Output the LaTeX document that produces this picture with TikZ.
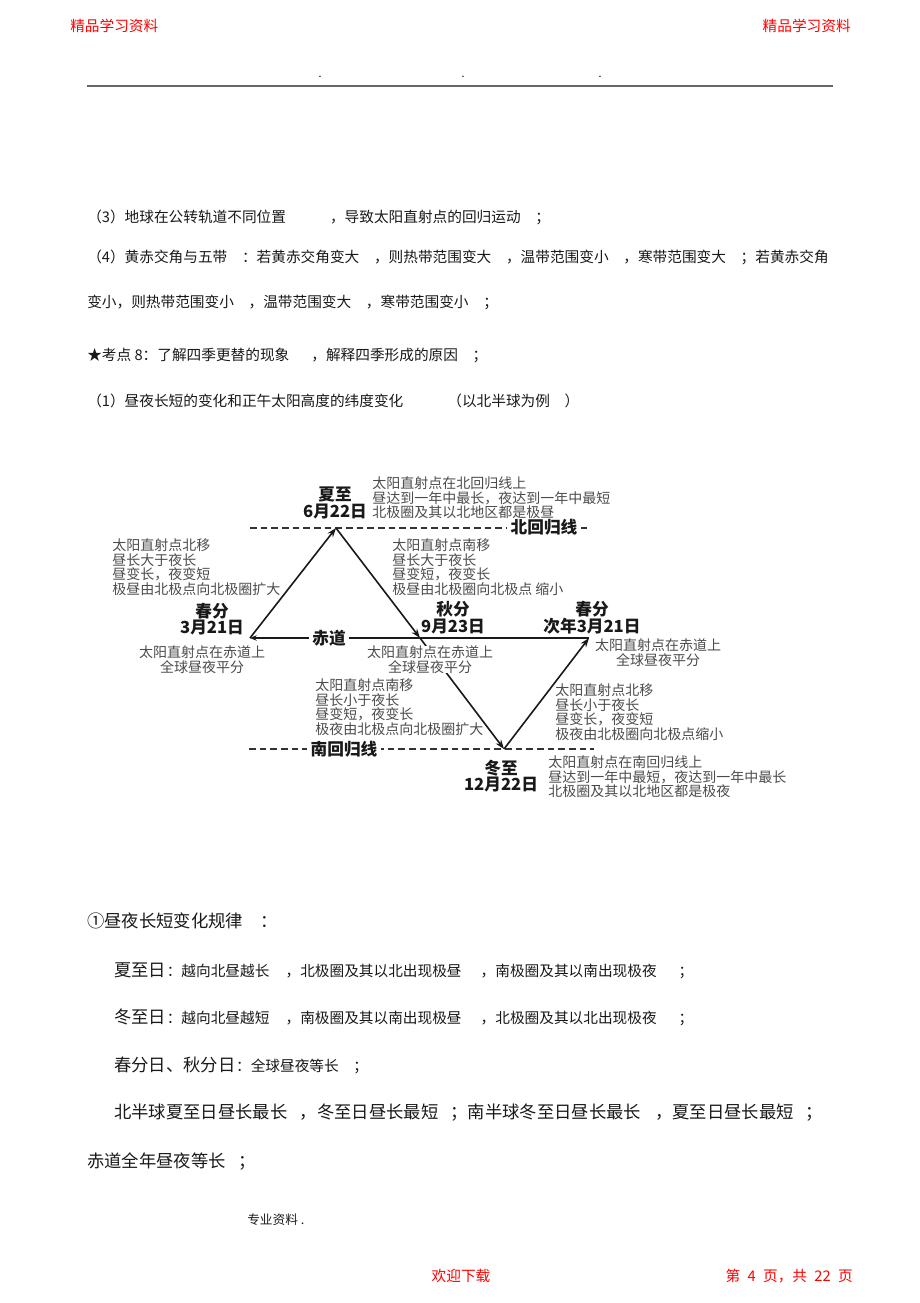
\documentclass[tikz,border=0pt]{standalone}
\usepackage{fontspec}
\setmainfont{Noto Sans CJK SC}
\usetikzlibrary{arrows.meta}

\begin{document}
\begin{tikzpicture}[x=0.75pt,y=-0.75pt]

\tikzstyle{redtext} = [inner sep=0pt,text=red,font=\fontsize{11}{13}\selectfont];
\tikzstyle{bodytext} = [anchor=west,inner sep=0pt,text=black!90,font=\fontsize{11}{13}\selectfont];
\tikzstyle{bigtext} = [anchor=west,inner sep=0pt,text=black!90,font=\fontsize{13}{15}\selectfont];
\tikzstyle{notenode} = [inner sep=0pt,align=left,text=black!70,font=\fontsize{10.5}{10.9}\selectfont];
\tikzstyle{seasonnode} = [inner sep=0pt,align=center,text=black!90,font=\bfseries\fontsize{12.5}{12.5}\selectfont];
\tikzstyle{linelabel} = [inner sep=2.5pt,fill=white,text=black!90,font=\bfseries\fontsize{12.5}{13}\selectfont];
\tikzstyle{orbitline} = [line width=1.2pt,draw=black!90,-{Stealth[length=7pt,width=5pt]}];
\tikzstyle{tropicline} = [line width=1.2pt,draw=black!80,dash pattern=on 5pt off 3pt];

\fill [white] (0,0) rectangle (920,1303);
\useasboundingbox (0,0) rectangle (920,1303);

% page head
\node [redtext,anchor=west] (headl) at (70,26) {精品学习资料};
\node [redtext,anchor=east] (headr) at (851,26) {精品学习资料};
\draw [line width=1.5pt,black!60] (87,86) -- (833,86);
\node [inner sep=0pt,font=\fontsize{8}{8}\selectfont] (dot1) at (320,77) {.};
\node [inner sep=0pt,font=\fontsize{8}{8}\selectfont] (dot2) at (463,77) {.};
\node [inner sep=0pt,font=\fontsize{8}{8}\selectfont] (dot3) at (600,77) {.};

% text above the figure
\node [bodytext] (t3) at (87,217) {（3）地球在公转轨道不同位置\hspace{3em}，导致太阳直射点的回归运动\hspace{1em}；};
\node [bodytext] (t4) at (87,257) {（4）黄赤交角与五带\hspace{1em}：若黄赤交角变大\hspace{1em}，则热带范围变大\hspace{1em}，温带范围变小\hspace{1em}，寒带范围变大\hspace{1em}；若黄赤交角};
\node [bodytext] (t4b) at (87,302) {变小，则热带范围变小\hspace{1em}，温带范围变大\hspace{1em}，寒带范围变小\hspace{1em}；};
\node [bodytext] (t8) at (87,355) {★考点 8：了解四季更替的现象\hspace{1.5em}，解释四季形成的原因\hspace{1em}；};
\node [bodytext] (t1) at (87,401) {（1）昼夜长短的变化和正午太阳高度的纬度变化\hspace{3em}（以北半球为例\hspace{1em}）};

% figure
\coordinate (chunfen) at (250,638);
\coordinate (xiazhi) at (336,528);
\coordinate (qiufen) at (420,638);
\coordinate (dongzhi) at (504,749);
\coordinate (chunfen2) at (589,638);
\coordinate (bhl) at (250,528);
\coordinate (bhr) at (591,528);
\coordinate (nhl) at (249,749);
\coordinate (nhr) at (594,749);

\draw [tropicline] (bhl) -- (bhr);
\draw [tropicline] (nhl) -- (nhr);
\draw [line width=1.2pt,draw=black!90,-{Stealth[length=5pt,width=4pt]}] (chunfen2) -- (chunfen);

\node [linelabel] (beihui) at (544,527) {北回归线};
\node [linelabel] (chidao) at (329,638) {赤道};
\node [linelabel] (nanhui) at (344,749) {南回归线};

\draw [orbitline] (chunfen) -- (xiazhi);
\draw [orbitline] (xiazhi) -- (qiufen);
\draw [orbitline] (qiufen) -- (dongzhi);
\draw [orbitline] (dongzhi) -- (chunfen2);

\node [seasonnode] (xzlabel) at (335,503) {夏至\\6月22日};
\node [seasonnode] (cflabel) at (212,619) {春分\\3月21日};
\node [seasonnode] (qflabel) at (453,618) {秋分\\9月23日};
\node [seasonnode] (cf2label) at (592,618) {春分\\次年3月21日};
\node [seasonnode] (dzlabel) at (501,776) {冬至\\12月22日};

\node [notenode,anchor=north west] (xznote) at (372,476.5) {太阳直射点在北回归线上\\昼达到一年中最长，夜达到一年中最短\\北极圈及其以北地区都是极昼};
\node [notenode,anchor=north west] (cfxznote) at (112,538.5) {太阳直射点北移\\昼长大于夜长\\昼变长，夜变短\\极昼由北极点向北极圈扩大};
\node [notenode,anchor=north west] (xzqfnote) at (392,538.5) {太阳直射点南移\\昼长大于夜长\\昼变短，夜变长\\极昼由北极圈向北极点 缩小};
\node [notenode,anchor=north,align=center] (cfnote) at (202,645.5) {太阳直射点在赤道上\\全球昼夜平分};
\node [notenode,anchor=north,align=center,fill=white] (qfnote) at (430,645.5) {太阳直射点在赤道上\\全球昼夜平分};
\node [notenode,anchor=north,align=center] (cf2note) at (658,638.5) {太阳直射点在赤道上\\全球昼夜平分};
\node [notenode,anchor=north west] (qfdznote) at (315,678.5) {太阳直射点南移\\昼长小于夜长\\昼变短，夜变长\\极夜由北极点向北极圈扩大};
\node [notenode,anchor=north west] (dzcfnote) at (555,683.5) {太阳直射点北移\\昼长小于夜长\\昼变长，夜变短\\极夜由北极圈向北极点缩小};
\node [notenode,anchor=north west] (dznote) at (548,755.5) {太阳直射点在南回归线上\\昼达到一年中最短，夜达到一年中最长\\北极圈及其以北地区都是极夜};

% text below the figure
\node [bigtext] (r0) at (87,921) {①昼夜长短变化规律\hspace{1em}：};
\node [bigtext] (r1) at (114,970) {夏至日};
\node [bodytext,anchor=base west] (r1t) at (r1.base east) {：越向北昼越长\hspace{1.1em}，北极圈及其以北出现极昼\hspace{1.3em}，南极圈及其以南出现极夜\hspace{1.5em}；};
\node [bigtext] (r2) at (114,1017) {冬至日};
\node [bodytext,anchor=base west] (r2t) at (r2.base east) {：越向北昼越短\hspace{1.1em}，南极圈及其以南出现极昼\hspace{1.3em}，北极圈及其以北出现极夜\hspace{1.5em}；};
\node [bigtext] (r3) at (114,1065) {春分日、秋分日};
\node [bodytext,anchor=base west] (r3t) at (r3.base east) {：全球昼夜等长\hspace{1em}；};
\node [bigtext] (r4) at (114,1113) {北半球夏至日昼长最长\hspace{0.7em}，冬至日昼长最短\hspace{0.7em}；南半球冬至日昼长最长\hspace{0.8em}，夏至日昼长最短\hspace{0.7em}；};
\node [bigtext] (r5) at (87,1162) {赤道全年昼夜等长\hspace{0.7em}；};

% page foot
\node [bodytext,font=\fontsize{9.5}{11}\selectfont] (foot0) at (247,1220) {专业资料 .};
\node [redtext] (footc) at (461,1276) {欢迎下载};
\node [redtext,anchor=east] (footr) at (853,1276) {第\hspace{0.5em}4\hspace{0.5em}页，共\hspace{0.5em}22\hspace{0.5em}页};

\end{tikzpicture}
\end{document}
